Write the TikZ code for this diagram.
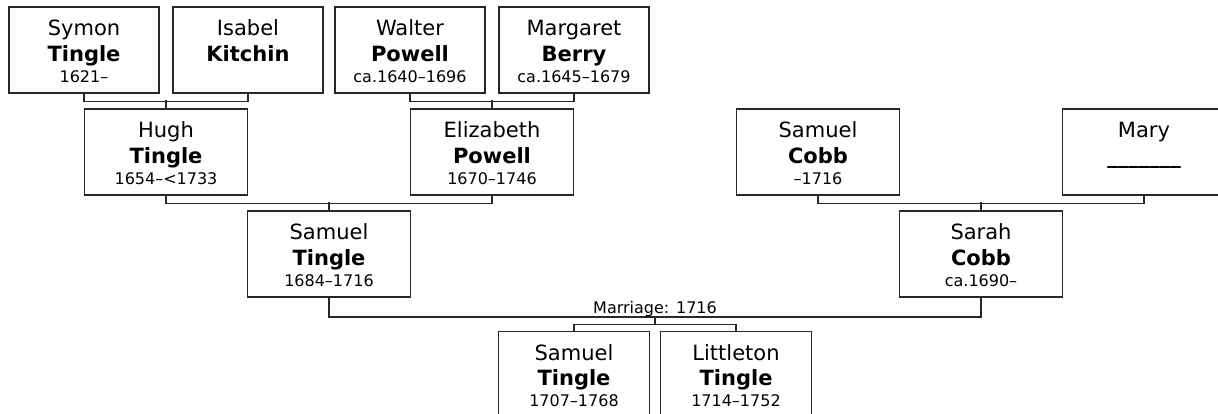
\documentclass[tikz,border=0pt]{standalone}
\usepackage{fontspec}
\setmainfont{DejaVu Sans}
\usepackage{tikz}
\usetikzlibrary{positioning,calc}
\definecolor{LineGray}{RGB}{40,40,40}
\newcommand{\namefont}{\fontsize{21}{25.6}\selectfont}
\newcommand{\datefont}{\fontsize{16}{19}\selectfont}
\newcommand{\who}[3]{\strut#1\\\textbf{#2}\\[-4.6pt]{\datefont\mbox{}#3}}
\tikzset{
  person/.style={rectangle,draw=LineGray,line width=1.2pt,minimum width=163pt,
                 minimum height=86pt,inner sep=0pt,align=center,font=\namefont},
  elder/.style={person,minimum width=150pt},
  kid/.style={person,minimum width=151pt},
  link/.style={LineGray,line width=1.2pt},
  wedtxt/.style={font=\datefont,inner sep=0pt},
}

\begin{document}
\begin{tikzpicture}[x=1pt,y=-1pt]
  \useasboundingbox (0,0) rectangle (1218,414);
  \clip (0,0) rectangle (1218,414);

  % great-grandparents
  \node[elder] (symon)    at (84,50)  {\who{Symon}{Tingle}{1621--}};
  \node[elder] (isabel)   at (248,50) {\who{Isabel}{Kitchin}{}};
  \node[elder] (walter)   at (410,50) {\who{Walter}{Powell}{ca.1640--1696}};
  \node[elder] (margaret) at (574,50) {\who{Margaret}{Berry}{ca.1645--1679}};

  % grandparents
  \node[person] (hugh)      at (166,152)  {\who{Hugh}{Tingle}{1654--<1733}};
  \node[person] (elizabeth) at (492,152)  {\who{Elizabeth}{Powell}{1670--1746}};
  \node[person] (scobb)     at (818,152)  {\who{Samuel}{Cobb}{--1716}};
  \node[person] (mary)      at (1144,152) {\who{Mary}{\_\_\_\_\_\_\_}{}};

  % parents
  \node[person] (samuel) at (329,254) {\who{Samuel}{Tingle}{1684--1716}};
  \node[person] (sarah)  at (981,254) {\who{Sarah}{Cobb}{ca.1690--}};

  % children
  \node[kid] (samjr)     at (574,374.5) {\who{Samuel}{Tingle}{1707--1768}};
  \node[kid] (littleton) at (736,374.5) {\who{Littleton}{Tingle}{1714--1752}};

  % couples and their child
  \draw[link] (symon.south) -- ++(0,8) -| (isabel.south);
  \draw[link] (hugh.north) -- ++(0,-8);
  \draw[link] (walter.south) -- ++(0,8) -| (margaret.south);
  \draw[link] (elizabeth.north) -- ++(0,-8);
  \draw[link] (hugh.south) -- ++(0,8) -| (elizabeth.south);
  \draw[link] (samuel.north) -- ++(0,-8);
  \draw[link] (scobb.south) -- ++(0,8) -| (mary.south);
  \draw[link] (sarah.north) -- ++(0,-8);

  % marriage
  \coordinate (wed) at (655,317);
  \coordinate (brood) at (655,324.5);
  \draw[link] (samuel.south) |- (wed) -| (sarah.south);
  \node[wedtxt,above=0pt of wed] (wedlabel) {Marriage: 1716};
  \draw[link] (wed) -- (brood);
  \draw[link] (samjr.north) |- (brood) -| (littleton.north);
\end{tikzpicture}
\end{document}
